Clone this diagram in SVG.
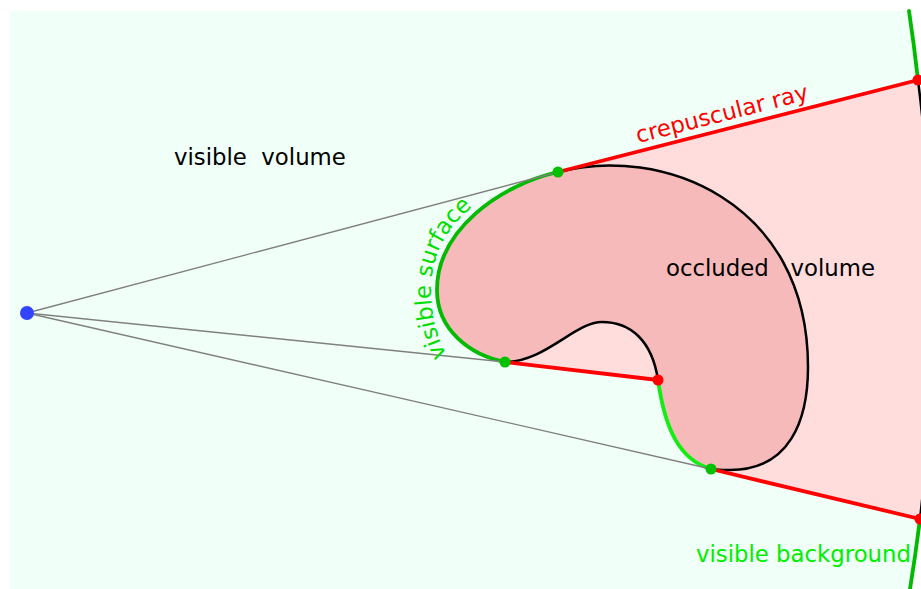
<svg xmlns="http://www.w3.org/2000/svg" xmlns:xlink="http://www.w3.org/1999/xlink" width="921" height="589" viewBox="0 0 921 589">
  <style>
    .lbl { font-family: "DejaVu Sans", "Liberation Sans", sans-serif; font-size: 22.8px; }
    .ray { stroke: #ff0000; stroke-width: 3.8; fill: none; stroke-linecap: round; }
    .sight { stroke: #808080; stroke-width: 1.3; fill: none; }
    .outline { stroke: #000000; stroke-width: 2.5; fill: none; }
    .vis { stroke: #00bb00; stroke-width: 3.8; fill: none; stroke-linecap: round; }
    .vis2 { stroke: #11ee11; stroke-width: 3.8; fill: none; stroke-linecap: round; }
    .gdot { fill: #00c000; }
    .rdot { fill: #ff0000; }
  </style>
  <defs>
    <path id="surfPath" d="M 452,364 C 437,341 431,315 431,290 C 431,246 456,210 508,184"/>
  </defs>

  <g id="background">
    <path d="M 10,11 L 909,11 A 1832 1832 0 0 1 910,589 L 10,589 Z" fill="#f0fff7"/>
  </g>

  <g id="occluded-volume">
    <path d="M 558,172 L 918,80 A 1832 1832 0 0 1 920,519 L 711,469 L 658,380 L 505,362 Z" fill="#ffdddd"/>
    <path d="M 918,80 A 1832 1832 0 0 1 920,519" class="outline"/>
  </g>

  <g id="object">
    <path d="M 558,172 C 660,145 808,200 808,367 C 808,420 790,470 730,470 C 722,470 716,470 711,469 C 680,460 665,430 658,380 C 652,340 630,322 602,322 C 575,322 545,362 505,362 C 470,355 437,330 437,290 C 437,230 500,185 558,172 Z" fill="#f7baba"/>
    <path d="M 558,172 C 660,145 808,200 808,367 C 808,420 790,470 730,470 C 722,470 716,470 711,469" class="outline"/>
    <path d="M 658,380 C 652,340 630,322 602,322 C 575,322 545,362 505,362" class="outline"/>
    <path d="M 505,362 C 470,355 437,330 437,290 C 437,230 500,185 558,172" class="vis"/>
    <path d="M 711,469 C 680,460 665,430 658,380" class="vis2"/>
  </g>

  <g id="background-surface">
    <path d="M 909,11 A 1832 1832 0 0 1 918,80" class="vis"/>
    <path d="M 920,519 A 1832 1832 0 0 1 910,589" class="vis"/>
  </g>

  <g id="connectors">
    <line x1="27" y1="313" x2="558" y2="172" class="sight"/>
    <line x1="27" y1="313" x2="505" y2="362" class="sight"/>
    <line x1="27" y1="313" x2="711" y2="469" class="sight"/>
    <line x1="558" y1="172" x2="918" y2="80" class="ray"/>
    <line x1="505" y1="362" x2="658" y2="380" class="ray"/>
    <line x1="711" y1="469" x2="920" y2="519" class="ray"/>
  </g>

  <g id="eye"><circle cx="27" cy="313" r="7" fill="#3344ff"/></g>
  <g id="points">
    <circle cx="558" cy="172" r="5.5" class="gdot"/>
    <circle cx="505" cy="362" r="5.5" class="gdot"/>
    <circle cx="711" cy="469" r="5.5" class="gdot"/>
    <circle cx="658" cy="380" r="5.5" class="rdot"/>
    <circle cx="918" cy="80" r="5.5" class="rdot"/>
    <circle cx="920" cy="519" r="5.5" class="rdot"/>
  </g>

  <g id="labels">
    <text class="lbl" x="174" y="165" fill="#000000" xml:space="preserve">visible  volume</text>
    <text class="lbl" x="666" y="276" fill="#000000" xml:space="preserve">occluded   volume</text>
    <text class="lbl" fill="#ff0000" transform="translate(638,143) rotate(-14.3)">crepuscular ray</text>
    <text class="lbl" x="696" y="562" fill="#00ee00">visible background</text>
    <text class="lbl" fill="#00dd00"><textPath xlink:href="#surfPath" startOffset="10">visible surface</textPath></text>
  </g>
</svg>
